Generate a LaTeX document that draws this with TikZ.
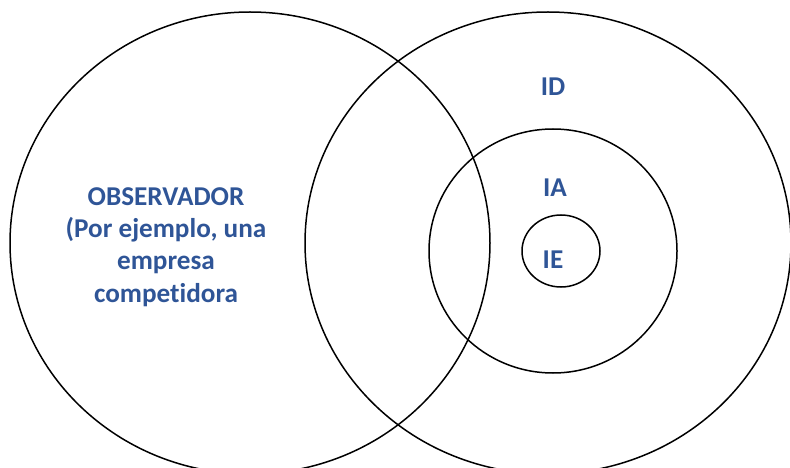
\documentclass[tikz,border=0pt]{standalone}
\usepackage{fontspec}
\setmainfont{Carlito}[Ligatures={NoCommon,NoRare}]
\usepackage{xcolor}
\definecolor{labelblue}{HTML}{2F5597}

\tikzset{
  ring/.style={draw=black, line width=1.5pt},
  tag/.style={text=labelblue, font=\fontsize{27.2}{32.3}\selectfont\bfseries, align=center}
}

\begin{document}
\begin{tikzpicture}[x=1pt, y=-1pt]
  \useasboundingbox (0,0) rectangle (790,468);
  \clip (0,0) rectangle (790,468);

  % the two big circles
  \draw[ring] (250,243) ellipse [x radius=240, y radius=231];
  \draw[ring] (548,243) ellipse [x radius=243, y radius=231];

  % nested circles on the right
  \draw[ring] (553,251) ellipse [x radius=124, y radius=122];
  \draw[ring] (561,251) ellipse [x radius=39, y radius=36];

  \node[tag] (obs) at (166,247) {OBSERVADOR\\(Por ejemplo, una\\empresa\\competidora};
  \node[tag] (id) at (553,87) {ID};
  \node[tag] (ia) at (555,188) {IA};
  \node[tag] (ie) at (553,260) {IE};
\end{tikzpicture}
\end{document}
